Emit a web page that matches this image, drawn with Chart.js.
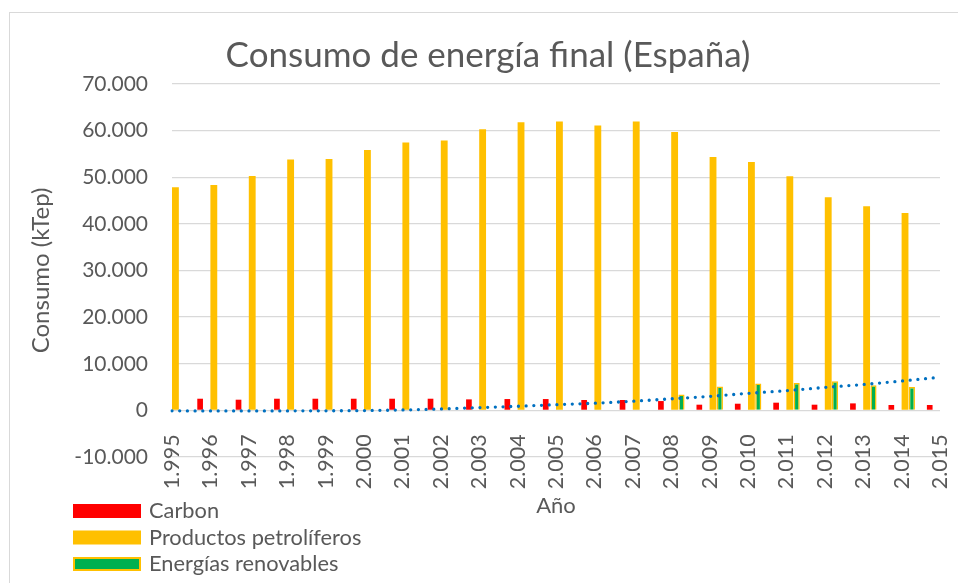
<!DOCTYPE html>
<html lang="es">
<head>
<meta charset="utf-8">
<title>Consumo de energía final (España)</title>
<script src="https://cdn.jsdelivr.net/npm/chart.js@4.4.1/dist/chart.umd.min.js"></script>
<style>
    html, body { margin: 0; padding: 0; background: #ffffff; overflow: hidden; }
    #marco { position: absolute; left: 9px; top: 12px; width: 1200px; height: 800px; border: 1px solid #d9d9d9; }
    #grafico { position: absolute; left: 0; top: 0; }
</style>
</head>
<body>
<div id="marco"></div>
<canvas id="grafico" width="958" height="583"></canvas>
<script>
// Datos (kTep)
var etiquetasAnio = ['1.995', '1.996', '1.997', '1.998', '1.999', '2.000', '2.001', '2.002', '2.003', '2.004',
    '2.005', '2.006', '2.007', '2.008', '2.009', '2.010', '2.011', '2.012', '2.013', '2.014', '2.015'];
var carbon = [2400, 2500, 2290, 2500, 2500, 2500, 2500, 2500, 2360, 2430,
    2430, 2220, 2220, 2000, 1220, 1430, 1650, 1220, 1500, 1150, 1150];
var petroliferos = [47840, 48330, 50260, 53830, 53900, 55830, 57470, 57900, 60300, 61820,
    61970, 61110, 61970, 59680, 54330, 53260, 50190, 45700, 43770, 42330, null];
var renovables = [null, null, null, null, null, null, null, null, null, null,
    null, null, null, 3400, 5100, 5750, 5850, 6250, 5400, 5000, null];
// serie vacia que ocupa su hueco dentro de cada grupo de barras
var sinDatos = [null, null, null, null, null, null, null, null, null, null,
    null, null, null, null, null, null, null, null, null, null, null];
// linea de tendencia (punteada)
var tendencia = [-100, -120, -120, -110, -90, -40, 90, 300, 600, 880,
    1220, 1540, 1960, 2480, 3000, 3650, 4230, 4920, 5550, 6300, 7100];

var grisTexto = '#595959';
Chart.defaults.font.family = 'Lato';
Chart.defaults.color = grisTexto;

function formatoMiles(v) {
    return String(v).replace(/\B(?=(\d{3})+(?!\d))/g, '.');
}

// leyenda apilada abajo a la izquierda, como en Excel
var leyendaInferior = {
    id: 'leyendaInferior',
    afterDraw: function(chart) {
        var ctx = chart.ctx;
        var y = chart.chartArea.bottom + 54;
        ctx.save();
        ctx.font = '21.8px Lato';
        ctx.textBaseline = 'middle';
        chart.data.datasets.forEach(function(ds) {
            if (ds.type === 'line' || !ds.label) return;
            ctx.fillStyle = ds.backgroundColor;
            ctx.fillRect(73, y - 7, 68, 14);
            if (ds.borderWidth) {
                ctx.strokeStyle = ds.borderColor;
                ctx.lineWidth = 2;
                ctx.strokeRect(74, y - 6, 66, 12);
            }
            ctx.fillStyle = grisTexto;
            ctx.fillText(ds.label, 149, y);
            y += 26.5;
        });
        ctx.restore();
    }
};

var ctx = document.getElementById('grafico').getContext('2d');
var graficoEnergia = new Chart(ctx, {
    type: 'bar',
    data: {
        labels: etiquetasAnio,
        datasets: [{
            type: 'line',
            label: 'Tendencia',
            data: tendencia,
            borderColor: '#0070C0',
            borderWidth: 3.3,
            borderDash: [0, 7.7],
            borderCapStyle: 'round',
            pointRadius: 0,
            cubicInterpolationMode: 'monotone',
            fill: false,
            order: -1
        }, {
            label: 'Carbon',
            data: carbon,
            backgroundColor: '#FF0000',
            borderWidth: 0,
            barPercentage: 0.83,
            categoryPercentage: 0.7135,
            clip: 0
        }, {
            label: '',
            data: sinDatos,
            backgroundColor: 'rgba(0,0,0,0)',
            borderWidth: 0,
            barPercentage: 1,
            categoryPercentage: 0.7135,
            clip: 0
        }, {
            label: 'Productos petrolíferos',
            data: petroliferos,
            backgroundColor: '#FFC000',
            borderWidth: 0,
            barPercentage: 1,
            categoryPercentage: 0.7135,
            clip: 0
        }, {
            label: 'Energías renovables',
            data: renovables,
            backgroundColor: '#00B050',
            borderColor: '#FFC000',
            borderWidth: 1.5,
            barPercentage: 0.9,
            categoryPercentage: 0.7135,
            clip: 0
        }]
    },
    options: {
        responsive: false,
        animation: false,
        devicePixelRatio: 1,
        layout: {
            padding: { top: 12, left: 18, right: 0, bottom: 126 }
        },
        scales: {
            x: {
                position: { y: 0 },
                offset: false,
                grid: { display: false, drawTicks: false, offset: false },
                border: { display: false },
                ticks: {
                    minRotation: 90,
                    maxRotation: 90,
                    autoSkip: false,
                    padding: 24,
                    color: grisTexto,
                    font: { size: 21.5 }
                },
                title: {
                    display: true,
                    text: 'Año',
                    color: grisTexto,
                    font: { size: 22 },
                    padding: { top: -21, bottom: 0 }
                },
                afterFit: function(scale) {
                    scale.paddingLeft = 0;
                    scale.paddingRight = 18;
                }
            },
            y: {
                min: -10000,
                max: 70000,
                ticks: {
                    stepSize: 10000,
                    padding: 24,
                    color: grisTexto,
                    font: { size: 21 },
                    callback: function(v) { return formatoMiles(v); }
                },
                grid: { color: '#d9d9d9', lineWidth: 1.3, drawTicks: false },
                border: { display: false },
                title: {
                    display: true,
                    text: 'Consumo (kTep)',
                    color: grisTexto,
                    font: { size: 24 },
                    padding: { top: 9, bottom: 0 }
                },
                afterFit: function(scale) {
                    scale.width = 154;
                }
            }
        },
        plugins: {
            title: {
                display: true,
                text: 'Consumo de energía final (España)',
                color: grisTexto,
                font: { size: 35, weight: 'normal' },
                padding: { top: 23, bottom: 7 }
            },
            legend: { display: false },
            tooltip: { enabled: false }
        }
    },
    plugins: [leyendaInferior]
});
</script>
</body>
</html>
